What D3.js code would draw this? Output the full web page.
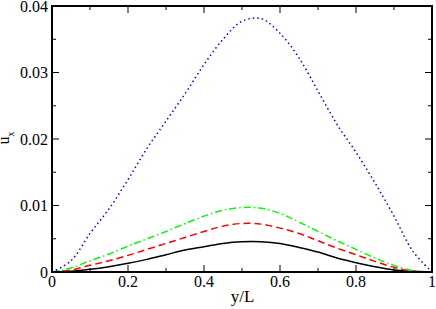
<!DOCTYPE html>
<html>
<head>
<meta charset="utf-8">
<script src="https://d3js.org/d3.v7.min.js"></script>
<style>
  body { margin: 0; background: #fff; }
</style>
</head>
<body>
<div id="chart"></div>
<script>
// positions across the channel (y/L)
var yL = [0, 0.05, 0.1, 0.15, 0.2, 0.25, 0.3, 0.35, 0.4, 0.45, 0.5,
  0.55, 0.6, 0.65, 0.7, 0.75, 0.8, 0.85, 0.9, 0.95, 1];

// u_x profiles
var uxBlue = [0, 0.0017, 0.0058, 0.0095, 0.0139, 0.0186, 0.0227, 0.0268, 0.0312, 0.0350, 0.0377,
  0.0381, 0.0359, 0.0322, 0.0272, 0.0222, 0.0180, 0.0134, 0.0084, 0.0031, 0];
var uxGreen = [0, 0.0006, 0.0017, 0.0027, 0.0039, 0.0050, 0.0061, 0.0073, 0.0084, 0.0093, 0.0097,
  0.0096, 0.0088, 0.0075, 0.0061, 0.0047, 0.0034, 0.0021, 0.0010, 0.0002, 0];
var uxRed = [0, 0.0003, 0.0010, 0.0017, 0.0025, 0.0034, 0.0043, 0.0052, 0.0061, 0.0069, 0.0073,
  0.0072, 0.0066, 0.0058, 0.0047, 0.0036, 0.0026, 0.0016, 0.0007, 0.0001, 0];
var uxBlack = [0, 0.0001, 0.0004, 0.0008, 0.0013, 0.0019, 0.0026, 0.0033, 0.0038, 0.0043, 0.00455,
  0.00455, 0.0043, 0.0037, 0.0030, 0.0021, 0.0014, 0.0008, 0.0003, 0.0001, 0];

var xMajor = [0, 0.2, 0.4, 0.6, 0.8, 1];
var xMinor = [0.1, 0.3, 0.5, 0.7, 0.9];
var yMajor = [0, 0.01, 0.02, 0.03, 0.04];
var yMinor = [0.005, 0.015, 0.025, 0.035];

var fontFamily = "'Liberation Serif', 'Times New Roman', 'DejaVu Serif', serif";

var svgWidth = 436;
var svgHeight = 309;
var margin = { top: 6, right: 4, bottom: 37, left: 52 };
var width = svgWidth - margin.left - margin.right;
var height = svgHeight - margin.top - margin.bottom;

var svg = d3.select("#chart")
  .append("svg")
  .attr("width", svgWidth)
  .attr("height", svgHeight)
  .attr("font-family", fontFamily);

var chartGroup = svg.append("g")
  .attr("transform", `translate(${margin.left}, ${margin.top})`);

var xScale = d3.scaleLinear().domain([0, 1]).range([0, width]);
var yScale = d3.scaleLinear().domain([0, 0.04]).range([height, 0]);

// curves
var series = [
  { values: uxBlack, color: "#000000", dash: null },
  { values: uxRed, color: "#ff0000", dash: "7,4" },
  { values: uxGreen, color: "#00ff00", dash: "7,3,1.5,3" },
  { values: uxBlue, color: "#0000ff", dash: "1.5,3" }
];

var line = d3.line()
  .x(d => xScale(d[0]))
  .y(d => Math.min(yScale(d[1]), height))
  .curve(d3.curveCatmullRom);

series.forEach(function(s) {
  chartGroup.append("path")
    .datum(yL.map((x, i) => [x, s.values[i]]))
    .attr("d", line)
    .attr("fill", "none")
    .attr("stroke", s.color)
    .attr("stroke-width", 1.5)
    .attr("stroke-dasharray", s.dash);
});

// ticks on all four sides, pointing in
function drawXTicks(vals, len) {
  vals.forEach(function(v) {
    var x = xScale(v);
    chartGroup.append("line").attr("x1", x).attr("x2", x).attr("y1", height).attr("y2", height - len)
      .attr("stroke", "#000").attr("stroke-width", 1);
    chartGroup.append("line").attr("x1", x).attr("x2", x).attr("y1", 0).attr("y2", len)
      .attr("stroke", "#000").attr("stroke-width", 1);
  });
}
function drawYTicks(vals, len) {
  vals.forEach(function(v) {
    var y = yScale(v);
    chartGroup.append("line").attr("x1", 0).attr("x2", len).attr("y1", y).attr("y2", y)
      .attr("stroke", "#000").attr("stroke-width", 1);
    chartGroup.append("line").attr("x1", width).attr("x2", width - len).attr("y1", y).attr("y2", y)
      .attr("stroke", "#000").attr("stroke-width", 1);
  });
}
drawXTicks(xMajor, 7);
drawXTicks(xMinor, 4);
drawYTicks(yMajor, 7);
drawYTicks(yMinor, 4);

// frame
chartGroup.append("rect")
  .attr("x", 0)
  .attr("y", 0)
  .attr("width", width)
  .attr("height", height)
  .attr("fill", "none")
  .attr("stroke", "#000")
  .attr("stroke-width", 2);

// tick labels
chartGroup.selectAll(".xlab")
  .data(xMajor)
  .enter()
  .append("text")
  .attr("x", d => xScale(d))
  .attr("y", height + 15)
  .attr("text-anchor", "middle")
  .attr("font-size", 16)
  .text(d => d3.format("")(d));

chartGroup.selectAll(".ylab")
  .data(yMajor)
  .enter()
  .append("text")
  .attr("x", -4)
  .attr("y", d => yScale(d) + 5.5)
  .attr("text-anchor", "end")
  .attr("font-size", 16)
  .text(d => d3.format("")(d));

// axis titles
chartGroup.append("text")
  .attr("x", width / 2 + 0.5)
  .attr("y", height + 30)
  .attr("text-anchor", "middle")
  .attr("font-size", 17)
  .text("y/L");

var ylabel = svg.append("text")
  .attr("transform", "translate(8.5, 138) rotate(-90)")
  .attr("text-anchor", "middle")
  .attr("font-size", 16);
ylabel.append("tspan").text("u");
ylabel.append("tspan").attr("dy", 5).attr("font-size", 10).text("x");
</script>
</body>
</html>
